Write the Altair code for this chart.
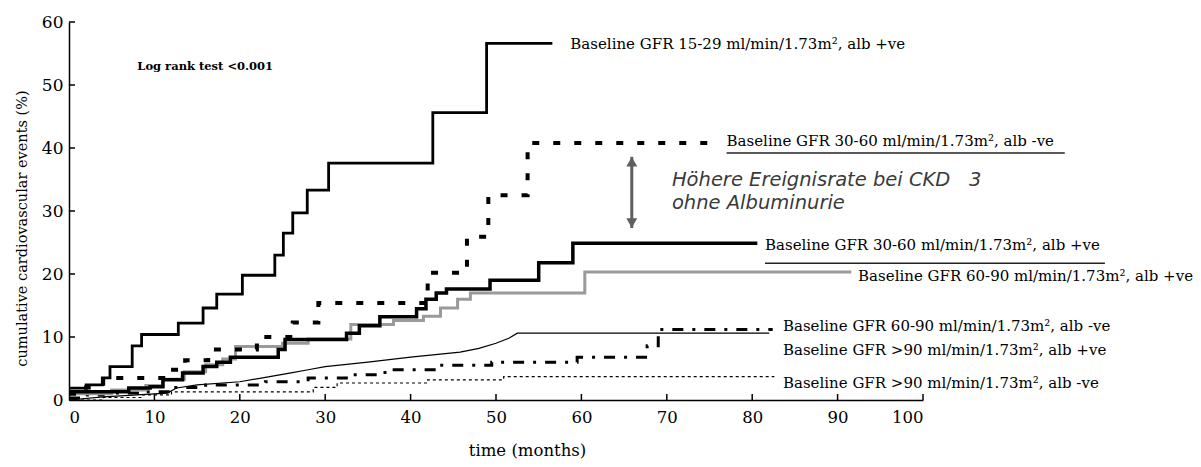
import altair as alt
import pandas as pd

# ---- data -------------------------------------------------------------------
c1_t = [0, 2.0, 3.9, 4.8, 7.4, 8.5, 12.8, 15.7, 17.3, 20.3, 24.1, 25.1, 26.2, 27.9, 30.4, 42.6, 48.9, 56.6]
c1_v = [1.9, 2.4, 3.5, 5.3, 8.6, 10.4, 12.2, 14.6, 16.8, 19.8, 23.0, 26.5, 29.7, 33.3, 37.6, 45.6, 56.6, 56.6]

c2_t = [0, 2, 4, 11.5, 13.6, 16.3, 22, 26.2, 29.2, 42, 46.6, 49.1, 53.7, 75]
c2_v = [1.0, 2.0, 3.5, 4.8, 6.3, 8.0, 10.0, 12.3, 15.4, 20.2, 25.9, 32.5, 40.8, 40.8]

c3_t = [0, 7, 9.5, 11, 13.3, 15.7, 17.3, 18.9, 24.5, 25.3, 32.5, 34, 36.4, 40.7, 41.8, 43, 44.2, 49.3, 55, 59, 80.6]
c3_v = [1.3, 1.9, 2.1, 3.2, 4.3, 5.3, 6.0, 6.8, 8.0, 9.6, 10.6, 11.8, 13.2, 14.5, 16.0, 17.0, 17.6, 19.0, 21.8, 24.9, 24.9]

c4_t = [0, 5, 9, 11, 13.5, 16, 18, 19.5, 25, 28, 33, 38, 41.5, 43.5, 45.5, 47, 60.4, 91.6]
c4_v = [1.0, 1.6, 2.3, 3.3, 4.5, 5.6, 6.5, 8.5, 9.0, 9.7, 12.0, 12.6, 13.3, 14.6, 16.0, 17.0, 20.3, 20.3]

c5_t = [0, 2, 4, 9, 12, 16, 23, 28, 33, 37, 43, 49.5, 59.5, 67.7, 69, 82.4]
c5_v = [0.3, 0.8, 1.1, 1.3, 2.0, 2.4, 2.9, 3.5, 4.0, 4.8, 5.5, 6.0, 6.8, 8.6, 11.2, 11.2]

c6_t = [0, 4, 11.5, 12.6, 15, 20, 23, 26, 28, 30, 35, 40, 45.8, 48, 50, 51.5, 52.5, 82]
c6_v = [0, 0.5, 1.1, 1.9, 2.4, 2.9, 3.6, 4.3, 4.8, 5.3, 6.0, 6.8, 7.6, 8.2, 9.0, 9.8, 10.6, 10.6]

c7_t = [0, 4, 8.5, 12, 28.6, 31.4, 42, 50.9, 82.6]
c7_v = [0, 0.4, 0.8, 1.3, 2.0, 2.7, 3.2, 3.7, 3.7]

label_texts = [
    "Baseline GFR 15-29 ml/min/1.73m², alb +ve",
    "Baseline GFR 30-60 ml/min/1.73m², alb -ve",
    "Baseline GFR 30-60 ml/min/1.73m², alb +ve",
    "Baseline GFR 60-90 ml/min/1.73m², alb +ve",
    "Baseline GFR 60-90 ml/min/1.73m², alb -ve",
    "Baseline GFR >90 ml/min/1.73m², alb +ve",
    "Baseline GFR >90 ml/min/1.73m², alb -ve",
]
label_t = [58.7, 77.0, 81.5, 92.4, 83.6, 83.6, 83.6]
label_v = [56.5, 41.1, 24.6, 19.7, 11.7, 7.9, 2.7]

underline_t = [77.0, 81.5]
underline_t2 = [116.6, 121.3]
underline_v = [39.2, 21.7]

note_lines = ["Höhere Ereignisrate bei CKD\u00a0\u00a0 3", "ohne Albuminurie"]
note_t = [70.6, 70.6]
note_v = [34.9, 31.3]

arrow_t = [65.9]
arrow_top = [38.6]
arrow_bottom = [27.3]

logrank_text = ["Log rank test <0.001"]
logrank_t = [8.0]
logrank_v = [52.9]

x_ticks = [10, 20, 30, 40, 50, 60, 70, 80, 90, 100]
y_ticks = [10, 20, 30, 40, 50, 60]

SERIF = "DejaVu Serif"

xscale = alt.Scale(domain=[0, 100], nice=False, zero=False)
yscale = alt.Scale(domain=[0, 60], nice=False, zero=False)

xaxis = alt.Axis(values=list(range(0, 101, 10)), ticks=False, grid=False,
                 domainColor="black", domainWidth=1.5, labelFont=SERIF,
                 labelFontSize=16.5, labelPadding=9, labelColor="black",
                 title="time (months)", titleFont=SERIF, titleFontSize=16.5,
                 titleFontWeight="normal", titleColor="black",
                 titleX=458, titleY=42, titleBaseline="top")
yaxis = alt.Axis(values=list(range(0, 61, 10)), ticks=False, grid=False,
                 domainColor="black", domainWidth=1.5, labelFont=SERIF,
                 labelFontSize=17, labelPadding=6, labelColor="black",
                 title="cumulative cardiovascular events (%)", titleFont=SERIF,
                 titleFontSize=14.5, titleFontWeight="normal", titleColor="black",
                 titleX=-47, titleY=206, titleBaseline="middle", titleAngle=-90)


def curve(ts, vs, color, width, dash=None, interp="step-after"):
    df = pd.DataFrame({"t": ts, "v": vs})
    kw = dict(interpolate=interp, color=color, strokeWidth=width)
    if dash:
        kw["strokeDash"] = dash
    return alt.Chart(df).mark_line(**kw).encode(
        x=alt.X("t:Q", scale=xscale, axis=xaxis),
        y=alt.Y("v:Q", scale=yscale, axis=yaxis),
    )


layers = [
    curve(c7_t, c7_v, "black", 1.2, [3, 3]),
    curve(c6_t, c6_v, "black", 1.2, None, "linear"),
    curve(c5_t, c5_v, "black", 3, [11, 9, 3, 9]),
    curve(c4_t, c4_v, "#9a9a9a", 3),
    curve(c3_t, c3_v, "black", 3.5),
    curve(c2_t, c2_v, "black", 4, [7, 14]),
    curve(c1_t, c1_v, "black", 2.8),
]

xt = alt.Chart(pd.DataFrame({"t": x_ticks})).mark_rule(color="black", strokeWidth=1.5).encode(
    x=alt.X("t:Q", scale=xscale), y=alt.value(378), y2=alt.value(372))
yt = alt.Chart(pd.DataFrame({"v": y_ticks})).mark_rule(color="black", strokeWidth=1.5).encode(
    y=alt.Y("v:Q", scale=yscale), x=alt.value(0), x2=alt.value(6))

labels = alt.Chart(pd.DataFrame({"t": label_t, "v": label_v, "txt": label_texts})).mark_text(
    align="left", baseline="middle", font=SERIF, fontSize=15, color="black").encode(
    x=alt.X("t:Q", scale=xscale), y=alt.Y("v:Q", scale=yscale), text="txt:N")

underl = alt.Chart(pd.DataFrame({"t": underline_t, "t2": underline_t2, "v": underline_v})).mark_rule(
    color="#222", strokeWidth=1.5).encode(
    x=alt.X("t:Q", scale=xscale), x2="t2:Q", y=alt.Y("v:Q", scale=yscale))

note = alt.Chart(pd.DataFrame({"t": note_t, "v": note_v, "txt": note_lines})).mark_text(
    align="left", baseline="middle", font="DejaVu Sans", fontStyle="italic", fontSize=19.5,
    color="#3a3a3a").encode(
    x=alt.X("t:Q", scale=xscale), y=alt.Y("v:Q", scale=yscale), text="txt:N")

arrow_df = pd.DataFrame({"t": arrow_t, "top": arrow_top, "bot": arrow_bottom})
shaft = alt.Chart(arrow_df).mark_rule(color="#5f5f5f", strokeWidth=3).encode(
    x=alt.X("t:Q", scale=xscale), y=alt.Y("top:Q", scale=yscale), y2="bot:Q")
head_up = alt.Chart(arrow_df).mark_point(shape="triangle-up", filled=True, color="#5f5f5f",
                                         size=120, opacity=1, yOffset=5).encode(
    x=alt.X("t:Q", scale=xscale), y=alt.Y("top:Q", scale=yscale))
head_down = alt.Chart(arrow_df).mark_point(shape="triangle-down", filled=True, color="#5f5f5f",
                                           size=120, opacity=1, yOffset=-5).encode(
    x=alt.X("t:Q", scale=xscale), y=alt.Y("bot:Q", scale=yscale))

logrank = alt.Chart(pd.DataFrame({"t": logrank_t, "v": logrank_v, "txt": logrank_text})).mark_text(
    align="left", baseline="middle", font=SERIF, fontSize=11.5, fontWeight=600,
    color="black").encode(
    x=alt.X("t:Q", scale=xscale), y=alt.Y("v:Q", scale=yscale), text="txt:N")

chart = alt.layer(*layers, xt, yt, labels, underl, note, shaft, head_up, head_down, logrank).properties(
    width=854, height=378,
    autosize=alt.AutoSizeParams(type="none"),
    padding={"left": 69, "top": 22, "right": 278, "bottom": 67},
    background="white",
).configure_view(stroke=None)

chart.save("out.html", embed_options={"renderer": "svg", "actions": False})
